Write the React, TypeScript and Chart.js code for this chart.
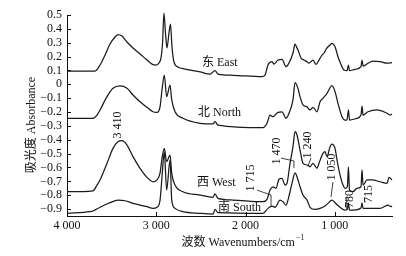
import React, { useEffect, useRef } from "react";
import { Chart, registerables } from "chart.js";

Chart.register(...registerables);

// ---- data (wavenumber cm-1, absorbance) ----
const eastWn = [4000, 3686, 3630, 3574, 3518, 3462, 3429, 3384, 3328, 3261, 3182, 3104, 3048, 3003, 2970, 2947, 2930, 2914, 2897, 2880, 2858, 2841, 2824, 2802, 2757, 2678, 2510, 2398, 2342, 2309, 2141, 1816, 1782, 1749, 1704, 1682, 1637, 1592, 1547, 1514, 1469, 1446, 1424, 1413, 1379, 1346, 1312, 1290, 1245, 1211, 1178, 1144, 1122, 1099, 1054, 1032, 998, 965, 920, 898, 864, 848, 836, 774, 707, 696, 684, 629, 573, 494, 416, 360];
const eastAbs = [0.096, 0.096, 0.139, 0.211, 0.291, 0.341, 0.359, 0.348, 0.305, 0.262, 0.219, 0.175, 0.146, 0.139, 0.154, 0.19, 0.298, 0.514, 0.37, 0.262, 0.37, 0.435, 0.269, 0.161, 0.125, 0.11, 0.089, 0.074, 0.098, 0.074, 0.065, 0.055, 0.067, 0.139, 0.163, 0.146, 0.175, 0.18, 0.127, 0.154, 0.226, 0.289, 0.262, 0.247, 0.19, 0.175, 0.163, 0.152, 0.175, 0.144, 0.175, 0.211, 0.224, 0.253, 0.284, 0.296, 0.271, 0.199, 0.127, 0.103, 0.098, 0.139, 0.098, 0.108, 0.127, 0.175, 0.132, 0.152, 0.168, 0.163, 0.152, 0.156];

const northWn = [4000, 3709, 3664, 3630, 3552, 3485, 3406, 3328, 3261, 3182, 3104, 3037, 2992, 2958, 2936, 2910, 2884, 2846, 2827, 2790, 2701, 2510, 2365, 2342, 2309, 1805, 1760, 1726, 1693, 1637, 1592, 1547, 1514, 1469, 1446, 1413, 1390, 1357, 1312, 1278, 1245, 1200, 1166, 1133, 1088, 1032, 998, 965, 920, 886, 864, 848, 836, 752, 707, 696, 684, 629, 528, 416, 382, 360];
const northAbs = [-0.245, -0.245, -0.222, -0.185, -0.089, -0.029, -0.012, -0.029, -0.077, -0.126, -0.166, -0.198, -0.202, -0.162, -0.041, 0.067, -0.089, -0.005, -0.113, -0.198, -0.245, -0.281, -0.286, -0.27, -0.294, -0.313, -0.281, -0.222, -0.234, -0.202, -0.198, -0.245, -0.209, -0.113, 0.012, -0.029, -0.089, -0.149, -0.162, -0.185, -0.166, -0.198, -0.126, -0.101, -0.065, -0.01, -0.053, -0.137, -0.234, -0.258, -0.258, -0.185, -0.258, -0.245, -0.222, -0.157, -0.222, -0.198, -0.185, -0.209, -0.222, -0.214];

const westWn = [4000, 3709, 3664, 3630, 3552, 3485, 3429, 3384, 3328, 3261, 3182, 3104, 3037, 2992, 2958, 2933, 2910, 2884, 2846, 2827, 2790, 2701, 2510, 2365, 2342, 2309, 2141, 1805, 1760, 1726, 1693, 1659, 1626, 1592, 1558, 1536, 1502, 1469, 1446, 1424, 1390, 1368, 1357, 1312, 1278, 1245, 1200, 1178, 1133, 1110, 1088, 1054, 1032, 998, 976, 942, 909, 886, 860, 848, 836, 797, 752, 707, 696, 684, 640, 584, 494, 416, 394, 360];
const westAbs = [-0.775, -0.768, -0.727, -0.69, -0.57, -0.462, -0.414, -0.407, -0.438, -0.522, -0.606, -0.671, -0.703, -0.69, -0.64, -0.522, -0.462, -0.558, -0.51, -0.642, -0.727, -0.775, -0.799, -0.815, -0.791, -0.823, -0.835, -0.847, -0.83, -0.763, -0.739, -0.75, -0.685, -0.678, -0.727, -0.714, -0.57, -0.45, -0.342, -0.366, -0.474, -0.546, -0.57, -0.582, -0.595, -0.57, -0.606, -0.57, -0.498, -0.486, -0.522, -0.45, -0.431, -0.462, -0.546, -0.654, -0.727, -0.75, -0.739, -0.595, -0.763, -0.775, -0.75, -0.739, -0.618, -0.727, -0.69, -0.69, -0.703, -0.714, -0.671, -0.69];

const southWn = [4000, 3742, 3709, 3630, 3518, 3429, 3350, 3261, 3104, 3037, 2992, 2958, 2933, 2910, 2884, 2846, 2827, 2790, 2701, 2510, 2365, 2342, 2309, 1805, 1749, 1704, 1670, 1614, 1581, 1547, 1525, 1480, 1446, 1424, 1390, 1357, 1312, 1278, 1222, 1166, 1110, 1077, 1032, 998, 942, 886, 860, 848, 836, 797, 707, 696, 684, 640, 494, 405, 371, 360];
const southAbs = [-0.931, -0.919, -0.914, -0.887, -0.854, -0.835, -0.84, -0.859, -0.883, -0.895, -0.887, -0.835, -0.642, -0.488, -0.763, -0.546, -0.835, -0.895, -0.919, -0.931, -0.936, -0.902, -0.926, -0.931, -0.895, -0.878, -0.887, -0.835, -0.847, -0.871, -0.835, -0.714, -0.638, -0.667, -0.739, -0.799, -0.835, -0.887, -0.902, -0.895, -0.878, -0.859, -0.835, -0.854, -0.887, -0.907, -0.902, -0.856, -0.907, -0.907, -0.892, -0.856, -0.895, -0.895, -0.895, -0.871, -0.883, -0.878];

const xTicks = [4000, 3000, 2000, 1000];
const yTicks = [-0.9, -0.8, -0.7, -0.6, -0.5, -0.4, -0.3, -0.2, -0.1, 0, 0.1, 0.2, 0.3, 0.4, 0.5];

const seriesNames = ["东 East", "北 North", "西 West", "南 South"];
const seriesLabelWn = [2488, 2533, 2544, 2309];
const seriesLabelAbs = [0.154, -0.207, -0.712, -0.892];

const peakTexts = ["3 410", "1 715", "1 470", "1 240", "1 050", "780", "715"];
const peakWn = [3429, 1939, 1648, 1301, 1038, 830, 623];
const peakAbs = [-0.294, -0.676, -0.481, -0.438, -0.597, -0.828, -0.792];

const leaderLines: number[][][] = [
  [[1872, -0.763], [1715, -0.799], [1715, -0.879]],
  [[1603, -0.532], [1458, -0.553], [1458, -0.604]],
  [[1267, -0.532], [1301, -0.59]],
  [[1021, -0.705], [1043, -0.813]],
  [[866, -0.81], [866, -0.905]],
];

const yTitle = "吸光度 Absorbance";
const xTitleMain = "波数 Wavenumbers/cm";
const xTitleSup = "−1";

const FONT = "'Liberation Serif', 'Noto Sans CJK SC', serif";

function fmtX(v: number) {
  const th = Math.floor(v / 1000);
  const rest = String(v % 1000).padStart(3, "0");
  return `${th} ${rest}`;
}
function fmtY(v: number) {
  if (Math.abs(v) < 1e-9) return "0";
  const s = Math.abs(v).toFixed(1);
  return v < 0 ? "−" + s : s;
}

const annotate = {
  id: "annotate",
  afterDatasetsDraw(chart: any) {
    const { ctx, scales, chartArea } = chart;
    const xs = scales.x;
    const ys = scales.y;
    ctx.save();
    ctx.fillStyle = "#111";
    ctx.strokeStyle = "#111";
    ctx.lineWidth = 1;

    // inward tick marks
    ctx.beginPath();
    yTicks.forEach((v) => {
      const py = Math.round(ys.getPixelForValue(v)) + 0.5;
      ctx.moveTo(chartArea.left, py);
      ctx.lineTo(chartArea.left + 4, py);
    });
    xTicks.forEach((v) => {
      const px = Math.round(xs.getPixelForValue(v)) + 0.5;
      ctx.moveTo(px, chartArea.bottom);
      ctx.lineTo(px, chartArea.bottom - 4);
    });
    ctx.stroke();

    // series labels
    ctx.font = `12px ${FONT}`;
    ctx.textAlign = "left";
    ctx.textBaseline = "middle";
    seriesNames.forEach((t, i) => {
      ctx.fillText(t, xs.getPixelForValue(seriesLabelWn[i]), ys.getPixelForValue(seriesLabelAbs[i]));
    });

    // peak labels (rotated)
    ctx.textAlign = "center";
    peakTexts.forEach((t, i) => {
      const px = xs.getPixelForValue(peakWn[i]);
      const py = ys.getPixelForValue(peakAbs[i]);
      ctx.save();
      ctx.translate(px, py);
      ctx.rotate(-Math.PI / 2);
      ctx.fillText(t, 0, 0);
      ctx.restore();
    });

    // leader lines
    ctx.lineWidth = 0.8;
    leaderLines.forEach((pts) => {
      ctx.beginPath();
      pts.forEach(([w, a], k) => {
        const px = xs.getPixelForValue(w);
        const py = ys.getPixelForValue(a);
        if (k === 0) ctx.moveTo(px, py);
        else ctx.lineTo(px, py);
      });
      ctx.stroke();
    });

    // axis titles
    ctx.font = `12px ${FONT}`;
    ctx.save();
    ctx.translate(32, 125);
    ctx.rotate(-Math.PI / 2);
    ctx.textAlign = "center";
    ctx.textBaseline = "middle";
    ctx.fillText(yTitle, 0, 0);
    ctx.restore();

    ctx.textAlign = "left";
    ctx.textBaseline = "middle";
    const mainW = ctx.measureText(xTitleMain).width;
    ctx.font = `8px ${FONT}`;
    const supW = ctx.measureText(xTitleSup).width;
    const total = mainW + supW + 1;
    const startX = 243 - total / 2;
    ctx.font = `12px ${FONT}`;
    ctx.fillText(xTitleMain, startX, 243);
    ctx.font = `8px ${FONT}`;
    ctx.fillText(xTitleSup, startX + mainW + 1, 238);
    ctx.restore();
  },
};

function toPoints(wn: number[], ab: number[]) {
  return wn.map((w, i) => ({ x: w, y: ab[i] }));
}

export default function App() {
  const ref = useRef<HTMLCanvasElement | null>(null);
  useEffect(() => {
    if (!ref.current) return;
    const common = {
      borderColor: "#1a1a1a",
      borderWidth: 1.25,
      pointRadius: 0,
      fill: false,
      cubicInterpolationMode: "monotone" as const,
      clip: false as const,
    };
    const chart = new Chart(ref.current, {
      type: "line",
      data: {
        datasets: [
          { ...common, label: seriesNames[0], data: toPoints(eastWn, eastAbs) },
          { ...common, label: seriesNames[1], data: toPoints(northWn, northAbs) },
          { ...common, label: seriesNames[2], data: toPoints(westWn, westAbs) },
          { ...common, label: seriesNames[3], data: toPoints(southWn, southAbs) },
        ],
      },
      options: {
        animation: false,
        responsive: false,
        parsing: false as any,
        layout: { padding: { left: 0, right: 14, top: 15, bottom: 0 } },
        plugins: { legend: { display: false }, tooltip: { enabled: false }, title: { display: false } },
        scales: {
          x: {
            type: "linear",
            reverse: true,
            min: 360,
            max: 4000,
            afterBuildTicks: (s: any) => {
              s.ticks = xTicks.map((v) => ({ value: v }));
            },
            afterFit: (s: any) => {
              s.height = 40;
            },
            grid: { display: true, drawOnChartArea: false, drawTicks: false, color: "#111" },
            border: { display: true, color: "#111", width: 1 },
            ticks: {
              padding: 3,
              color: "#111",
              font: { family: FONT, size: 12 },
              maxRotation: 0,
              autoSkip: false,
              callback: (v: any) => fmtX(Number(v)),
            },
          },
          y: {
            type: "linear",
            min: -0.95,
            max: 0.5,
            afterBuildTicks: (s: any) => {
              s.ticks = yTicks.map((v) => ({ value: v }));
            },
            afterFit: (s: any) => {
              s.width = 67;
            },
            grid: { display: true, drawOnChartArea: false, drawTicks: false, color: "#111" },
            border: { display: true, color: "#111", width: 1 },
            ticks: {
              padding: 5,
              color: "#111",
              font: { family: FONT, size: 12 },
              autoSkip: false,
              callback: (v: any) => fmtY(Number(v)),
            },
          },
        },
      },
      plugins: [annotate],
    });
    return () => chart.destroy();
  }, []);
  return (
    <div style={{ position: "absolute", left: 0, top: 0, width: 406, height: 256, background: "#fff" }}>
      <canvas ref={ref} width={406} height={256} style={{ display: "block" }} />
    </div>
  );
}
